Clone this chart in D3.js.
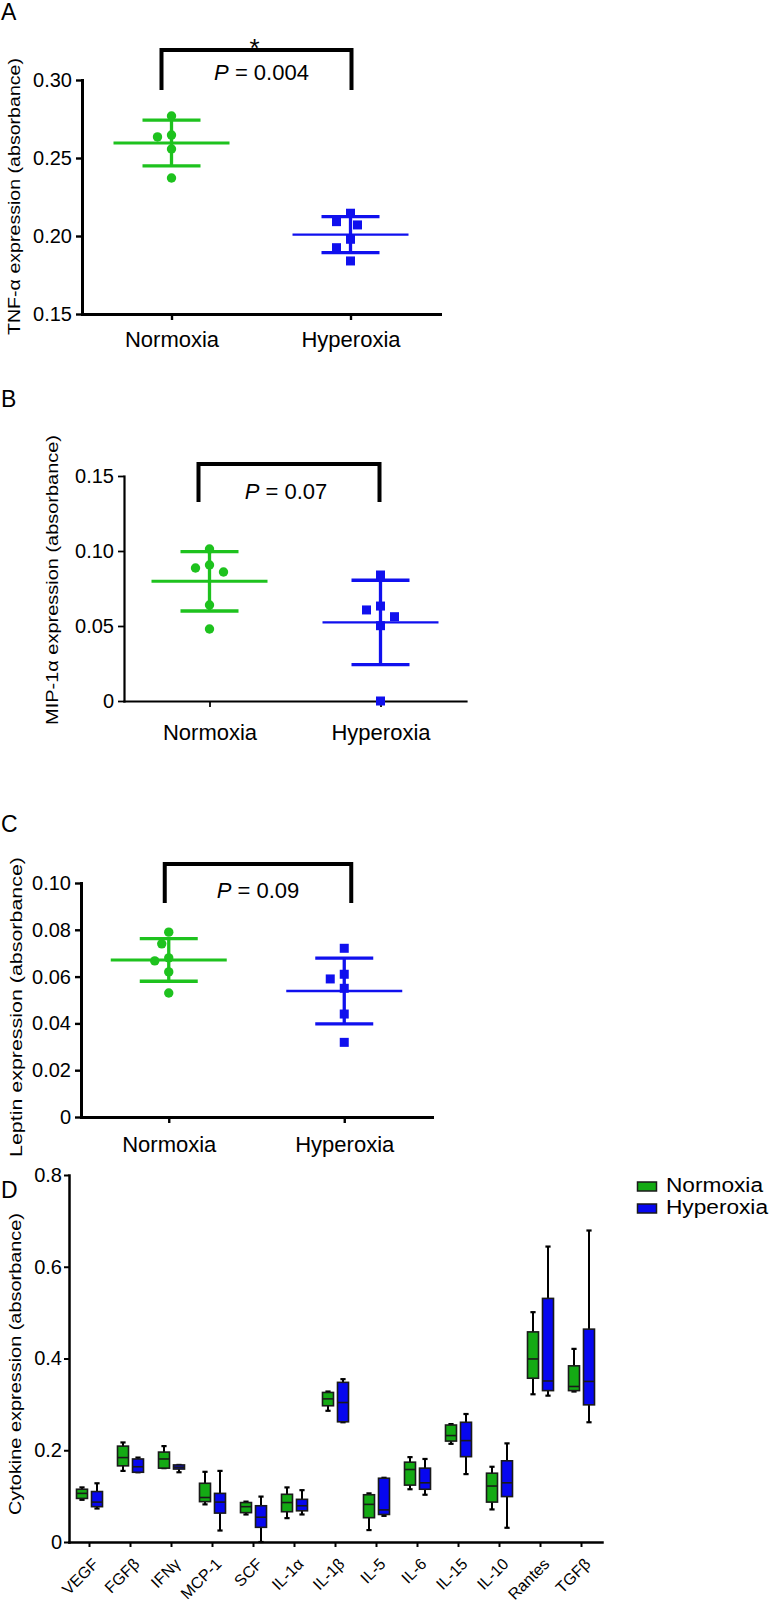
<!DOCTYPE html>
<html><head><meta charset="utf-8">
<script src="https://cdn.jsdelivr.net/npm/d3@7"></script>
<style>
body{margin:0;background:#fff}
svg{display:block}
text{font-family:"Liberation Sans",Arial,Helvetica,sans-serif;fill:#000}
</style>
</head><body>
<svg id="chart" width="769" height="1604"></svg>
<script>
// ---------------- DATA ----------------
const groups = ["Normoxia", "Hyperoxia"];

// Panel A: TNF-α
const tnfNormoxia  = [0.2769, 0.2647, 0.2635, 0.2558, 0.2372];
const tnfHyperoxia = [0.2146, 0.2092, 0.2071, 0.1979, 0.1925, 0.1840];
const tnfTicks = [0.15, 0.20, 0.25, 0.30];

// Panel B: MIP-1α
const mipNormoxia  = [0.1013, 0.0907, 0.0887, 0.0860, 0.0640, 0.0480];
const mipHyperoxia = [0.0840, 0.0633, 0.0607, 0.0562, 0.0502, 0.0000];
const mipTicks = [0, 0.05, 0.10, 0.15];

// Panel C: Leptin
const leptinNormoxia  = [0.0790, 0.0740, 0.0680, 0.0667, 0.0620, 0.0530];
const leptinHyperoxia = [0.0721, 0.0610, 0.0590, 0.0550, 0.0440, 0.0319];
const leptinTicks = [0, 0.02, 0.04, 0.06, 0.08, 0.10];

const pValues = ["0.004", "0.07", "0.09"];

// Panel D: cytokine box plots
const cytokines = ["VEGF","FGFβ","IFNγ","MCP-1","SCF","IL-1α","IL-1β","IL-5","IL-6","IL-15","IL-10","Rantes","TGFβ"];
const normoxiaMin    = [0.092,0.155,0.161,0.082,0.060,0.052,0.286,0.026,0.115,0.214,0.071,0.322,0.328];
const normoxiaQ1     = [0.095,0.166,0.161,0.088,0.064,0.066,0.297,0.053,0.124,0.220,0.087,0.357,0.330];
const normoxiaMedian = [0.106,0.184,0.181,0.097,0.077,0.086,0.312,0.082,0.158,0.232,0.122,0.399,0.339];
const normoxiaQ3     = [0.115,0.209,0.196,0.128,0.086,0.104,0.326,0.103,0.174,0.255,0.150,0.458,0.384];
const normoxiaMax    = [0.119,0.217,0.209,0.153,0.088,0.119,0.328,0.106,0.185,0.257,0.164,0.501,0.421];
const hyperoxiaMin    = [0.073,0.152,0.152,0.025,0.000,0.060,0.261,0.057,0.103,0.148,0.031,0.319,0.261];
const hyperoxiaQ1     = [0.077,0.152,0.159,0.063,0.032,0.068,0.262,0.060,0.115,0.186,0.099,0.330,0.299];
const hyperoxiaMedian = [0.087,0.164,0.163,0.087,0.054,0.079,0.304,0.070,0.129,0.221,0.129,0.351,0.350];
const hyperoxiaQ3     = [0.110,0.181,0.168,0.106,0.079,0.093,0.348,0.139,0.161,0.261,0.177,0.531,0.464];
const hyperoxiaMax    = [0.128,0.184,0.168,0.155,0.099,0.113,0.355,0.140,0.181,0.279,0.215,0.644,0.679];
const cytokineTicks = [0, 0.2, 0.4, 0.6, 0.8];

// ---------------- STYLE ----------------
const GREEN = "#1ec21e", BLUE = "#1010ee";
const BOX_GREEN = "#14aa14", BOX_BLUE = "#0707f0";
const svg = d3.select("#chart");
const fmtTick = f => d => d === 0 ? "0" : d3.format(f)(d);

// beeswarm-style horizontal dodge (computed, not stored)
function swarm(values, y, step, minDist) {
  const order = d3.range(values.length).sort((a, b) => d3.descending(values[a], values[b]));
  const placed = [], out = new Array(values.length);
  for (const i of order) {
    const py = y(values[i]);
    for (let k = 0; k < 20; k++) {
      const m = k === 0 ? 0 : (k % 2 ? -Math.ceil(k / 2) : Math.ceil(k / 2));
      const ox = m * step;
      if (placed.every(p => Math.hypot(p.x - ox, p.y - py) >= minDist)) {
        placed.push({x: ox, y: py}); out[i] = ox; break;
      }
    }
  }
  return out;
}

const panels = [
  {letter: "A", letterY: 20, ylabel: "TNF-α expression (absorbance)",
   n: tnfNormoxia, h: tnfHyperoxia, ticks: tnfTicks, fmt: fmtTick(".2f"),
   x0: 82, x1: 440, yB: 314, yT: 80, axisW: 3,
   labX: 20, labY: 196.5, labLen: 277, xLabDy: 33,
   br: {top: 50, bot: 90, dl: -10, dr: 1}, p: pValues[0], pDx: 5, pY: 80, star: true},
  {letter: "B", letterY: 407, ylabel: "MIP-1α expression (absorbance)",
   n: mipNormoxia, h: mipHyperoxia, ticks: mipTicks, fmt: fmtTick(".2f"),
   x0: 124, x1: 466, yB: 701, yT: 476, axisW: 2.2,
   labX: 58, labY: 580, labLen: 290, xLabDy: 39,
   br: {top: 464, bot: 502, dl: -11, dr: -1}, p: pValues[1], pDx: -3, pY: 499, star: false},
  {letter: "C", letterY: 832, ylabel: "Leptin expression (absorbance)",
   n: leptinNormoxia, h: leptinHyperoxia, ticks: leptinTicks, fmt: fmtTick(".2f"),
   x0: 81, x1: 432, yB: 1117, yT: 883, axisW: 3,
   labX: 22, labY: 1007, labLen: 300, xLabDy: 35,
   br: {top: 864, bot: 903, dl: -4, dr: 7}, p: pValues[2], pDx: 0, pY: 898, star: false}
];

panels.forEach(P => {
  const g = svg.append("g");
  const x = d3.scalePoint().domain(groups).range([P.x0, P.x1]).padding(0.5);
  const y = d3.scaleLinear().domain([P.ticks[0], P.ticks[P.ticks.length - 1]]).range([P.yB, P.yT]);

  g.append("text").attr("x", 1).attr("y", P.letterY).attr("font-size", 23).text(P.letter);

  const ya = g.append("g").attr("transform", `translate(${P.x0},0)`)
    .call(d3.axisLeft(y).tickValues(P.ticks).tickFormat(P.fmt).tickSize(6).tickPadding(4).tickSizeOuter(0));
  const xa = g.append("g").attr("transform", `translate(0,${P.yB})`)
    .call(d3.axisBottom(x).tickSize(6).tickSizeOuter(0));
  [ya, xa].forEach(a => {
    a.attr("font-family", null).attr("font-size", null);
    a.select(".domain").attr("stroke-width", P.axisW).attr("stroke-linecap", "square");
    a.selectAll(".tick line").attr("stroke-width", P.axisW * 0.8);
  });
  ya.selectAll("text").attr("font-size", 20);
  xa.selectAll("text").attr("font-size", 22).attr("dy", null).attr("y", P.xLabDy);

  g.append("text").attr("transform", `translate(${P.labX},${P.labY}) rotate(-90)`)
    .attr("text-anchor", "middle").attr("font-size", 17)
    .attr("textLength", P.labLen).attr("lengthAdjust", "spacingAndGlyphs")
    .text(P.ylabel);

  [[P.n, GREEN, "circle"], [P.h, BLUE, "square"]].forEach(([vals, col, shape], gi) => {
    const cx = x(groups[gi]);
    const offs = swarm(vals, y, 7, 13);
    if (shape === "circle") {
      g.selectAll(null).data(vals).enter().append("circle")
        .attr("cx", (d, i) => cx + offs[i]).attr("cy", d => y(d)).attr("r", 4.7).attr("fill", col);
    } else {
      g.selectAll(null).data(vals).enter().append("rect")
        .attr("x", (d, i) => cx + offs[i] - 4.5).attr("y", d => y(d) - 4.5)
        .attr("width", 9).attr("height", 9).attr("fill", col);
    }
    const m = d3.mean(vals), sd = d3.deviation(vals);
    const eg = g.append("g").attr("stroke", col);
    eg.append("line").attr("x1", cx - 58).attr("x2", cx + 58).attr("y1", y(m)).attr("y2", y(m))
      .attr("stroke-width", gi === 0 ? 3 : 2.4);
    eg.append("line").attr("x1", cx).attr("x2", cx).attr("y1", y(m + sd)).attr("y2", y(m - sd))
      .attr("stroke-width", 3.3);
    [m + sd, m - sd].forEach(v => eg.append("line").attr("x1", cx - 29).attr("x2", cx + 29)
      .attr("y1", y(v)).attr("y2", y(v)).attr("stroke-width", 3.3));
  });

  const bl = x(groups[0]) + P.br.dl, brr = x(groups[1]) + P.br.dr;
  g.append("path").attr("d", `M${bl},${P.br.bot}V${P.br.top}H${brr}V${P.br.bot}`)
    .attr("fill", "none").attr("stroke", "#000").attr("stroke-width", 4);
  const t = g.append("text").attr("x", (bl + brr) / 2 + P.pDx).attr("y", P.pY)
    .attr("text-anchor", "middle").attr("font-size", 22);
  t.append("tspan").attr("font-style", "italic").text("P");
  t.append("tspan").text(" = " + P.p);
  if (P.star) {
    g.append("text").attr("x", (bl + brr) / 2 - 2).attr("y", P.br.top + 7)
      .attr("text-anchor", "middle").attr("font-size", 26).text("*");
  }
});

// ---------------- PANEL D ----------------
const gD = svg.append("g");
const xD = d3.scaleBand().domain(cytokines).range([69, 602]);
const yD = d3.scaleLinear().domain([0, 0.8]).range([1542, 1175]);
gD.append("text").attr("x", 1).attr("y", 1198).attr("font-size", 23).text("D");

const yaD = gD.append("g").attr("transform", "translate(69,0)")
  .call(d3.axisLeft(yD).tickValues(cytokineTicks).tickFormat(fmtTick(".1f")).tickSize(5).tickPadding(2).tickSizeOuter(0));
const xaD = gD.append("g").attr("transform", "translate(0,1542)")
  .call(d3.axisBottom(xD).tickSize(5).tickSizeOuter(0));
[yaD, xaD].forEach(a => {
  a.attr("font-family", null).attr("font-size", null);
  a.select(".domain").attr("stroke-width", 2.5).attr("stroke-linecap", "square");
  a.selectAll(".tick line").attr("stroke-width", 2);
});
yaD.selectAll("text").attr("font-size", 20);
xaD.selectAll("text").attr("font-size", 16).attr("y", null).attr("dy", null)
  .attr("text-anchor", "end").attr("transform", "translate(10,23) rotate(-45)");

gD.append("text").attr("transform", "translate(21,1364) rotate(-90)")
  .attr("text-anchor", "middle").attr("font-size", 17)
  .attr("textLength", 302).attr("lengthAdjust", "spacingAndGlyphs")
  .text("Cytokine expression (absorbance)");

const boxSeries = [
  {name: groups[0], fill: BOX_GREEN, dx: -7.5, min: normoxiaMin, q1: normoxiaQ1, med: normoxiaMedian, q3: normoxiaQ3, max: normoxiaMax},
  {name: groups[1], fill: BOX_BLUE,  dx: 7.5,  min: hyperoxiaMin, q1: hyperoxiaQ1, med: hyperoxiaMedian, q3: hyperoxiaQ3, max: hyperoxiaMax}
];
boxSeries.forEach(S => {
  const rows = cytokines.map((c, i) => ({c, min: S.min[i], q1: S.q1[i], med: S.med[i], q3: S.q3[i], max: S.max[i]}));
  const cxf = d => xD(d.c) + xD.bandwidth() / 2 + S.dx;
  const bg = gD.append("g");
  bg.selectAll(null).data(rows).enter().append("line")
    .attr("x1", cxf).attr("x2", cxf).attr("y1", d => yD(d.min)).attr("y2", d => yD(d.max))
    .attr("stroke", "#000").attr("stroke-width", 2);
  ["min", "max"].forEach(k => bg.selectAll(null).data(rows).enter().append("line")
    .attr("x1", d => cxf(d) - 2.6).attr("x2", d => cxf(d) + 2.6)
    .attr("y1", d => yD(d[k])).attr("y2", d => yD(d[k]))
    .attr("stroke", "#000").attr("stroke-width", 2.2));
  bg.selectAll(null).data(rows).enter().append("rect")
    .attr("x", d => cxf(d) - 5.5).attr("width", 11)
    .attr("y", d => yD(d.q3)).attr("height", d => Math.max(1, yD(d.q1) - yD(d.q3)))
    .attr("fill", S.fill).attr("stroke", "#1a1a1a").attr("stroke-width", 1.6);
  bg.selectAll(null).data(rows).enter().append("line")
    .attr("x1", d => cxf(d) - 5.5).attr("x2", d => cxf(d) + 5.5)
    .attr("y1", d => yD(d.med)).attr("y2", d => yD(d.med))
    .attr("stroke", "#1a1a1a").attr("stroke-width", 1.6);
});

// legend
const lg = gD.append("g");
boxSeries.forEach((S, i) => {
  lg.append("rect").attr("x", 637.5).attr("y", 1182 + i * 22).attr("width", 19).attr("height", 9)
    .attr("fill", S.fill).attr("stroke", "#1a1a1a").attr("stroke-width", 1.5);
  lg.append("text").attr("x", 666).attr("y", 1192 + i * 22).attr("font-size", 19.5)
    .attr("textLength", i === 0 ? 97 : 102).attr("lengthAdjust", "spacingAndGlyphs").text(S.name);
});
</script>
</body></html>
